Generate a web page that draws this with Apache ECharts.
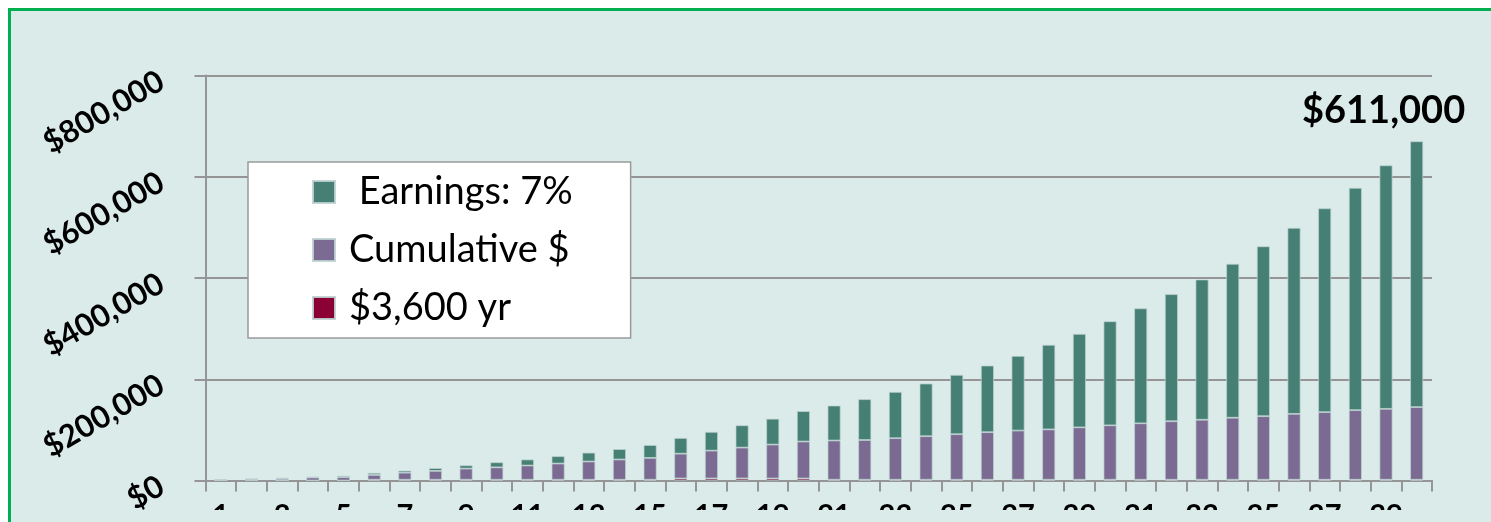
<!DOCTYPE html>
<html>
<head>
<meta charset="utf-8">
<script src="https://cdn.jsdelivr.net/npm/echarts@6/dist/echarts.min.js"></script>
<style>
  html, body { margin: 0; padding: 0; background: #ffffff; overflow: hidden; }
  #frame { position: absolute; left: 8px; top: 8px; width: 1600px; height: 600px;
           background: #dbebe9; border-left: 3px solid #00b050; border-top: 3px solid #00b050; }
  #chart { position: absolute; left: 0; top: 0; width: 1491px; height: 522px; }
</style>
</head>
<body>
<div id="frame"></div>
<div id="chart"></div>
<script>
// Years 1..40
const categories = ['1','2','3','4','5','6','7','8','9','10','11','12','13','14','15','16','17','18','19','20',
                    '21','22','23','24','25','26','27','28','29','30','31','32','33','34','35','36','37','38','39','40'];

// "$3,600 yr" segment (bottom, red)
const yearlyDeposit = [0,0,0,0,0,1500,1500,1500,1500,1500,1500,1500,1500,1500,1500,4000,4000,4000,4000,4000,
                       1500,1500,1500,1500,1500,1500,1500,1500,1500,1500,1500,1500,1500,1500,1500,1500,1500,1500,1500,1500];

// "Cumulative $" segment (middle, purple)
const cumulative = [1800,2800,3300,6000,6600,9500,14000,17500,22000,24500,28100,32000,36000,40000,43200,49000,55000,61000,67000,73000,
                    77500,78500,82100,86000,90000,93900,97200,99500,103500,107500,111500,115500,118500,122500,125500,130100,133500,137500,140000,143500];

// "Earnings: 7%" segment (top, green)
const earnings = [400,500,2000,1200,2600,4000,4000,5500,6500,10000,11900,14500,17500,20500,25300,31000,37000,44000,51000,60000,
                  69000,80600,91400,104000,117100,131600,147300,167000,184500,205500,227000,251000,277000,304000,335600,367400,402600,439000,481000,525000];

const yTickLabels = ['$0','$200,000','$400,000','$600,000','$800,000'];
const seriesNames = [' Earnings: 7%', 'Cumulative $', '$3,600 yr'];
const annotation = '$611,000';

const BG = '#dbebe9';
const GRID_GRAY = '#959595';
const FONT = 'Lato, "Open Sans", sans-serif';
const BORDER = 'rgba(190,210,210,0.9)';

const chart = echarts.init(document.getElementById('chart'), null, { renderer: 'canvas' });

function bar(name, data, color) {
  return {
    type: 'bar', stack: 'total', name: name, data: data, color: color,
    barWidth: 13,
    itemStyle: { color: color, borderColor: BORDER, borderWidth: 0.8 },
    emphasis: { disabled: true }
  };
}

chart.setOption({
  backgroundColor: 'transparent',
  animation: false,
  grid: { left: 205.5, right: 59, top: 75.5, bottom: 41.5, containLabel: false, outerBoundsMode: 'none' },
  legend: {
    orient: 'vertical',
    left: 248, top: 162,
    data: seriesNames,
    selectedMode: false,
    icon: 'rect',
    itemWidth: 22, itemHeight: 22,
    itemGap: 20,
    backgroundColor: '#ffffff',
    borderColor: '#9a9a9a',
    borderWidth: 1.5,
    padding: [11, 58, 11, 64],
    textStyle: { fontFamily: FONT, fontSize: 38, color: '#000', lineHeight: 36, padding: [0, 0, 0, 9] }
  },
  xAxis: {
    type: 'category',
    data: categories,
    boundaryGap: true,
    axisLine: { show: true, lineStyle: { color: GRID_GRAY, width: 2 } },
    axisTick: { show: true, interval: 0, length: 11, lineStyle: { color: GRID_GRAY, width: 2 } },
    axisLabel: { interval: 1, margin: 21, color: '#000', fontFamily: FONT, fontWeight: 'bold', fontSize: 29 },
    splitLine: { show: false }
  },
  yAxis: {
    type: 'value',
    min: 0, max: 800000, interval: 200000,
    axisLine: { show: true, lineStyle: { color: GRID_GRAY, width: 2 } },
    axisTick: { show: true, length: 11, lineStyle: { color: GRID_GRAY, width: 2 } },
    splitLine: { show: true, lineStyle: { color: GRID_GRAY, width: 2 } },
    axisLabel: {
      rotate: 30, margin: 46, color: '#000', fontFamily: FONT, fontWeight: 'bold', fontSize: 31,
      align: 'right', verticalAlign: 'top', lineHeight: 8,
      formatter: function (v) { return yTickLabels[Math.round(v / 200000)]; }
    }
  },
  series: [
    bar(seriesNames[2], yearlyDeposit, '#8b0035'),
    bar(seriesNames[1], cumulative, '#7b6a92'),
    bar(seriesNames[0], earnings, '#467f73')
  ],
  graphic: [
    { type: 'text', left: 1302, top: 92, z: 50,
      style: { text: annotation, fill: '#000', font: 'bold 38px ' + FONT } },
    { type: 'rect', z: 100, silent: true,
      shape: { x: 11, y: 510, width: 1500, height: 20 }, style: { fill: BG } }
  ]
});
</script>
</body>
</html>
